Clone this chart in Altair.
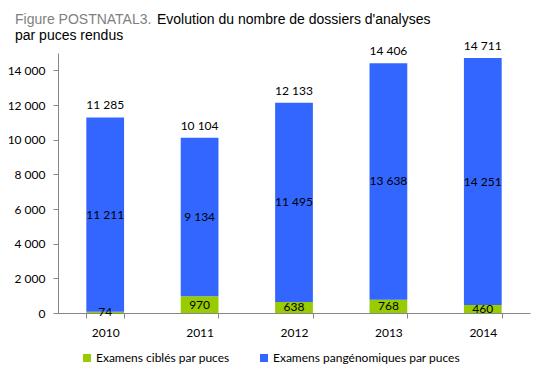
import altair as alt
import pandas as pd

years = ["2010", "2011", "2012", "2013", "2014"]
cibles = [74, 970, 638, 768, 460]
pangenomiques = [11211, 9134, 11495, 13638, 14251]
series = ["Examens ciblés par puces", "Examens pangénomiques par puces"]
colors = ["#99CC00", "#3366FF"]
y_ticks = [0, 2000, 4000, 6000, 8000, 10000, 12000, 14000]

rows = []
for i, y in enumerate(years):
    rows.append({"year": y, "serie": series[0], "rank": 0, "value": cibles[i]})
    rows.append({"year": y, "serie": series[1], "rank": 1, "value": pangenomiques[i]})
df = pd.DataFrame(rows)

FONT = "Lato"

base = alt.Chart(df).transform_stack(
    stack="value", groupby=["year"], as_=["v0", "v1"],
    sort=[alt.SortField("rank", order="ascending")]
).transform_calculate(mid="(datum.v0 + datum.v1) / 2")

xscale = alt.Scale(paddingInner=0.6, paddingOuter=0.3)
xaxis = alt.Axis(labelAngle=0, tickBand="extent", tickSize=5,
                 labelPadding=9, labelFont=FONT, labelFontSize=12,
                 labelColor="#000000", domainColor="#868686",
                 tickColor="#868686")
yscale = alt.Scale(domain=[0, 15000], nice=False)
yaxis = alt.Axis(values=y_ticks, format=",d", grid=False, tickSize=5,
                 labelOverlap=False, labelFlush=False,
                 labelPadding=8, labelFont=FONT, labelFontSize=12,
                 labelColor="#000000", domainColor="#868686",
                 tickColor="#868686")

bars = base.mark_bar().encode(
    x=alt.X("year:N", sort=years, title=None, scale=xscale, axis=xaxis),
    y=alt.Y("v0:Q", scale=yscale, title=None, axis=yaxis),
    y2="v1:Q",
    color=alt.Color("serie:N", scale=alt.Scale(domain=series, range=colors),
                    legend=alt.Legend(title=None, orient="none", direction="horizontal",
                                      legendX=23, legendY=299, symbolType="square",
                                      symbolSize=64, symbolStrokeWidth=0,
                                      labelFont=FONT, labelFontSize=12,
                                      labelColor="#000000", columnPadding=28,
                                      labelOffset=3, labelLimit=400)),
)

seg_labels = base.mark_text(font=FONT, fontSize=12, baseline="middle",
                            color="#000000").encode(
    x=alt.X("year:N", sort=years, title=None, scale=xscale, axis=xaxis),
    y=alt.Y("mid:Q", scale=yscale, title=None, axis=yaxis),
    text=alt.Text("value:Q", format=",d"),
)

totals = alt.Chart(df).transform_aggregate(
    total="sum(value)", groupby=["year"]
).mark_text(font=FONT, fontSize=12, baseline="alphabetic", dy=-8,
            color="#000000").encode(
    x=alt.X("year:N", sort=years, title=None, scale=xscale, axis=xaxis),
    y=alt.Y("total:Q", scale=yscale, title=None, axis=yaxis),
    text=alt.Text("total:Q", format=",d"),
)

one = pd.DataFrame({"k": [0]})
t1 = alt.Chart(one).mark_text(font="Liberation Sans", fontSize=14, align="left",
                              baseline="alphabetic", color="#7F7F7F").encode(
    x=alt.value(-43), y=alt.value(-29), text=alt.value("Figure POSTNATAL3."))
t2 = alt.Chart(one).mark_text(font="Liberation Sans", fontSize=14, align="left",
                              baseline="alphabetic", color="#000000").encode(
    x=alt.value(99), y=alt.value(-29),
    text=alt.value("Evolution du nombre de dossiers d'analyses"))
t3 = alt.Chart(one).mark_text(font="Liberation Sans", fontSize=14, align="left",
                              baseline="alphabetic", color="#000000").encode(
    x=alt.value(-43), y=alt.value(-13), text=alt.value("par puces rendus"))

chart = alt.layer(bars, seg_labels, totals, t1, t2, t3).properties(
    width=472, height=260,
    autosize=alt.AutoSizeParams(type="none"),
    padding={"left": 50, "top": 45, "right": 5, "bottom": 55},
).configure(
    locale={"number": {"decimal": ",", "thousands": " ", "grouping": [3],
                       "currency": ["", " €"]}}
).configure_view(stroke=None)

chart.save("out.html", embed_options={"renderer": "svg", "actions": False})
